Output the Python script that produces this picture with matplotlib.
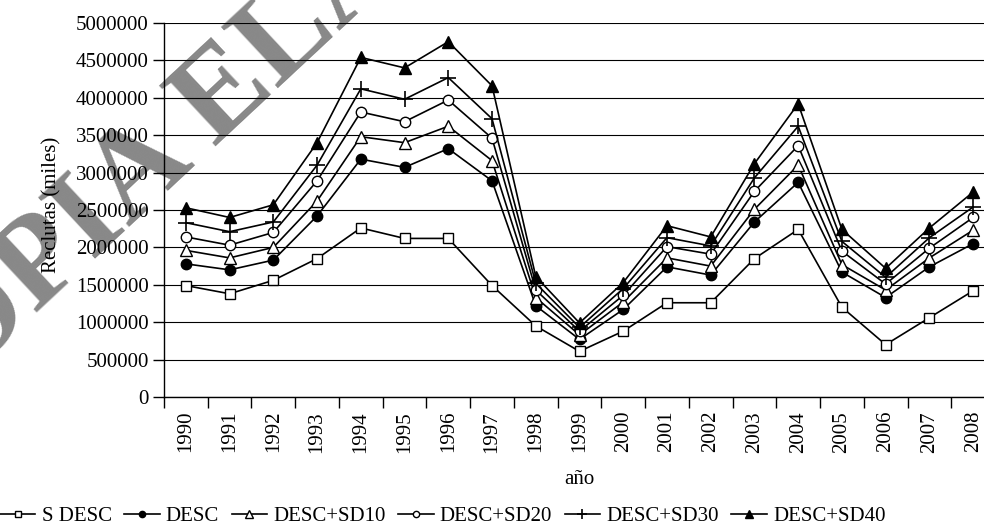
import matplotlib
matplotlib.use("Agg")
import matplotlib.pyplot as plt
from matplotlib.ticker import FixedLocator, NullFormatter, FuncFormatter
import numpy as np

plt.rcParams['font.family'] = ['Liberation Serif', 'DejaVu Serif']

years = [str(y) for y in range(1990, 2009)]
s_desc = [1490000, 1380000, 1560000, 1850000, 2260000, 2120000, 2120000, 1490000, 950000, 610000,
          880000, 1260000, 1260000, 1850000, 2240000, 1200000, 700000, 1060000, 1420000]
desc = [1780000, 1700000, 1830000, 2420000, 3180000, 3070000, 3320000, 2890000, 1220000, 770000,
        1170000, 1740000, 1630000, 2340000, 2870000, 1670000, 1330000, 1740000, 2050000]
desc_sd10 = [1960000, 1860000, 2000000, 2620000, 3480000, 3400000, 3620000, 3160000, 1330000, 830000,
             1270000, 1860000, 1750000, 2510000, 3100000, 1770000, 1430000, 1860000, 2230000]
desc_sd20 = [2140000, 2030000, 2200000, 2890000, 3810000, 3680000, 3970000, 3460000, 1430000, 880000,
             1360000, 2010000, 1910000, 2750000, 3360000, 1950000, 1510000, 1990000, 2400000]
desc_sd30 = [2330000, 2210000, 2340000, 3100000, 4120000, 3980000, 4270000, 3720000, 1520000, 930000,
             1450000, 2130000, 2020000, 2930000, 3620000, 2080000, 1600000, 2130000, 2540000]
desc_sd40 = [2530000, 2400000, 2570000, 3400000, 4540000, 4400000, 4750000, 4160000, 1610000, 990000,
             1530000, 2290000, 2140000, 3120000, 3920000, 2240000, 1720000, 2260000, 2740000]
series_names = ['S DESC', 'DESC', 'DESC+SD10', 'DESC+SD20', 'DESC+SD30', 'DESC+SD40']
y_ticks = list(range(0, 5000001, 500000))

W, H = 984, 527
fig = plt.figure(figsize=(W / 100, H / 100), dpi=100)
left, right, top, bottom = 164, 995, 23, 397
ax = fig.add_axes([left / W, (H - bottom) / H, (right - left) / W, (bottom - top) / H])
ax.set_facecolor('none')

# watermark
fig.text(-105 / W, 82 / H, 'COPIA ELABORADA', rotation=43, rotation_mode='anchor',
         ha='left', va='baseline', fontsize=92, fontweight='bold', color='#888888',
         zorder=-1, family='Liberation Serif')

x = np.arange(len(years))
styles = [
    dict(marker='s', mfc='white', mec='black', ms=7.5, mew=1.0),
    dict(marker='o', mfc='black', mec='black', ms=7.5, mew=1.0),
    dict(marker='^', mfc='white', mec='black', ms=8.5, mew=1.0),
    dict(marker='o', mfc='white', mec='black', ms=7.5, mew=1.0),
    dict(marker='+', mfc='black', mec='black', ms=12, mew=1.2),
    dict(marker='^', mfc='black', mec='black', ms=8.5, mew=1.0),
]
data = [s_desc, desc, desc_sd10, desc_sd20, desc_sd30, desc_sd40]
for name, vals, st in zip(series_names, data, styles):
    ax.plot(x, vals, color='black', lw=1.2, label=name, clip_on=False, zorder=3, **st)

ax.set_xlim(-0.5, len(years) - 0.5)
ax.set_ylim(0, 5000000)
ax.set_yticks(y_ticks)
ax.yaxis.set_major_formatter(FuncFormatter(lambda v, p: f"{int(v)}"))
ax.xaxis.set_major_locator(FixedLocator(np.arange(-0.5, len(years), 1.0)))
ax.xaxis.set_major_formatter(NullFormatter())
ax.xaxis.set_minor_locator(FixedLocator(x))
ax.set_xticklabels(years, minor=True, rotation=90)
ax.tick_params(axis='x', which='minor', length=0, pad=10, labelsize=15)
ax.tick_params(axis='x', which='major', length=8, width=1, direction='out')
ax.tick_params(axis='y', length=8, width=1, direction='out', labelsize=15, pad=3)
ax.yaxis.grid(True, color='black', lw=0.8)
ax.set_axisbelow(True)
for s in ['top', 'right']:
    ax.spines[s].set_visible(False)
for s in ['left', 'bottom']:
    ax.spines[s].set_color('black')
    ax.spines[s].set_linewidth(1.0)

fig.text((left + right) / 2 / W, 1 - 480 / H, 'año', ha='center', va='center', fontsize=15)
fig.text(52 / W, 1 - 205 / H, 'Reclutas (miles)', rotation=90, ha='center', va='center', fontsize=15)

fig.legend(loc='center left', bbox_to_anchor=(0.0, 11 / H), ncol=6, frameon=False,
           handlelength=1.7, handletextpad=0.3, columnspacing=0.6, markerscale=0.6,
           fontsize=15, borderaxespad=0, borderpad=0)

fig.savefig('out.png', dpi=100)
